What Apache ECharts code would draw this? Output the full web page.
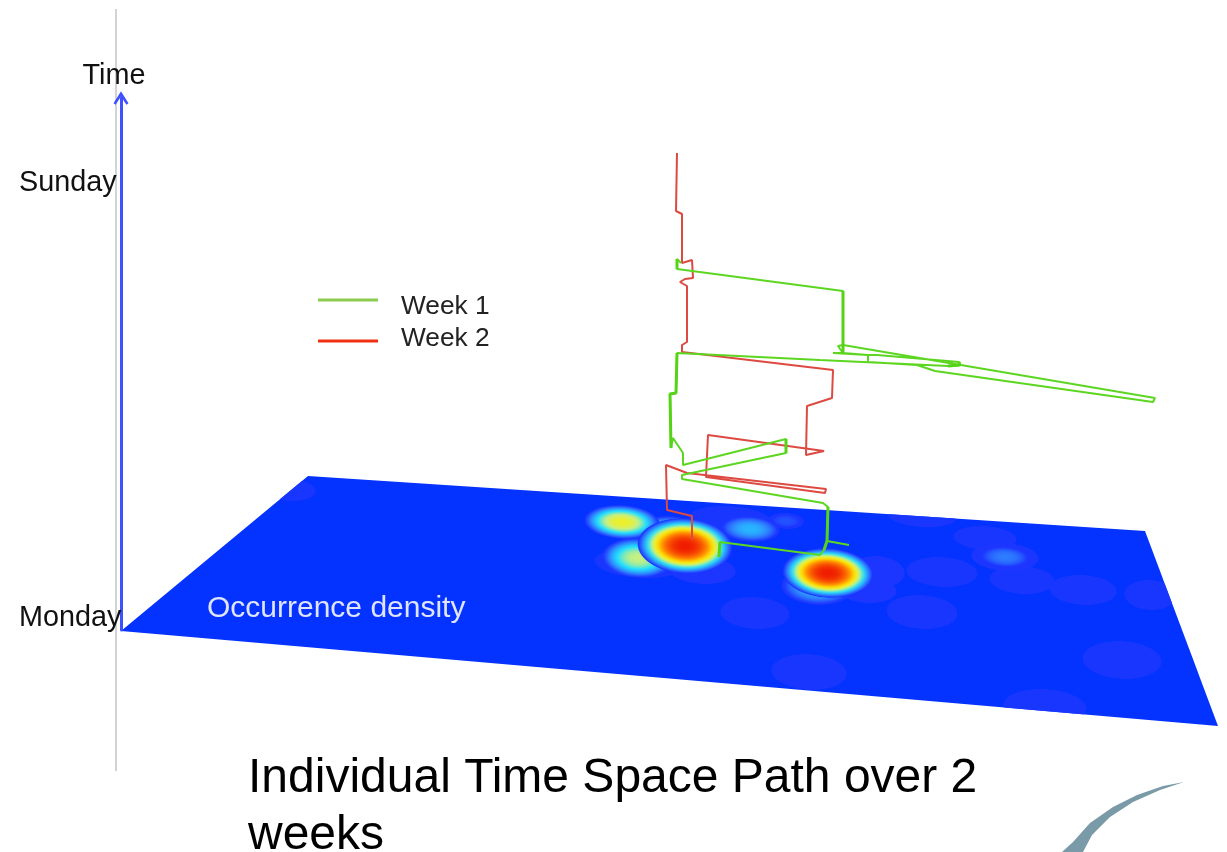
<!DOCTYPE html>
<html>
<head>
<meta charset="utf-8">
<script src="https://cdn.jsdelivr.net/npm/echarts@6/dist/echarts.min.js"></script>
<style>
  html, body { margin: 0; background: #fff; }
  #main { width: 1227px; height: 852px; }
</style>
</head>
<body>
<div id="main"></div>
<script>
const chartTitle = 'Individual Time Space Path over 2\nweeks'
const dayNames = ['Monday', 'Sunday']
const dayValues = [0, 6]

// paths, in picture units
const week1Path = [[719,557],[720,542],[820,555],[824,550],[827,541],[849,545],[827,541],[828,507],[823,503],[682,479],[682,475],[786,453],[786,439],[683,465],[683,453],[673,438],[671,448],[670,394],[676,393],[677,353],[820,360],[948,366],[960,365],[959,362],[877,355],[868,355],[868,362],[917,365],[935,371],[1153,402],[1155,398],[843,345],[838,346],[843,353],[833,353],[868,355],[843,353],[843,291],[677,269],[677,259],[681,263]]
const week1Heavy = [[843,291],[843,353],null,[677,353],[676,393],[670,394],[671,448],null,[828,507],[827,541],[824,550],null,[786,439],[786,453],null,[677,269],[677,259],null,[948,366],[960,365],[959,362],null,[719,557],[720,542]]
const week2Path = [[677,153],[676,211],[682,214],[682,230],[682,263],[692,260],[693,278],[685,279],[680,282],[687,286],[687,342],[682,345],[682,352],[833,370],[832,398],[807,406],[806,455],[824,451],[708,435],[706,477],[825,493],[826,489],[687,473],[666,465],[667,510],[692,516],[692,540]]

const planeCorners = [[121,631],[308,476],[1145,531],[1218,726]]
const logoOutline = [[1184,782],[1163,786],[1137,795],[1113,807],[1090,823],[1073,842],[1062,852],[1083,852],[1092,835],[1110,817],[1133,802],[1160,790]]
const timeRule = [[116,9],[116,771]]

// x, y, spread x, spread y, peak density
const densitySpots = [
  [290,490,26,11,0.06],[730,520,42,14,0.06],[922,517,34,10,0.06],[985,538,32,12,0.06],
  [1022,580,33,14,0.06],[942,572,36,15,0.06],[1083,590,34,15,0.06],[1150,595,26,15,0.06],
  [755,613,35,16,0.06],[922,612,36,17,0.06],[1122,660,40,19,0.06],[809,672,38,18,0.06],
  [1045,707,42,18,0.06],[877,572,28,16,0.07],[867,590,30,13,0.07],[640,563,46,15,0.06],
  [702,570,34,14,0.07],[1005,557,34,14,0.09],[786,521,18,8,0.14],[1005,557,26,11,0.24],
  [750,529,30,13,0.36],[817,587,36,18,0.38],[670,530,30,14,0.46],[638,558,36,20,0.6],
  [622,522,38,17,0.68],[828,573,46,25,1],[685,546,48,28,1]
]

const densityColors = [
  [0, '#0433ff'], [0.07, '#1c36ff'], [0.25, '#2f80ff'], [0.45, '#22e0ff'],
  [0.6, '#c8f080'], [0.72, '#ffee00'], [0.85, '#ff8800'], [1, '#f01c00']
]

function densityColor(v) {
  for (let i = 1; i < densityColors.length; i++) {
    if (v <= densityColors[i][0]) {
      let a = densityColors[i - 1], b = densityColors[i]
      let t = (v - a[0]) / (b[0] - a[0])
      return echarts.color.lerp(t, [a[1], b[1]])
    }
  }
  return '#f01c00'
}

function spotGradient(peak) {
  let stops = []
  for (let i = 0; i <= 14; i++) {
    let t = i / 14 * 0.97
    let level = Math.max(0.07, peak * (1 - Math.pow(t, 2.4)))
    stops.push({ offset: t, color: densityColor(Math.min(level, peak)) })
  }
  stops.push({ offset: 1, color: 'rgba(28,54,255,0)' })
  return new echarts.graphic.RadialGradient(0.5, 0.5, 0.5, stops)
}

function coordsOf(api, list) {
  return list.map(p => api.coord(p))
}

const chart = echarts.init(document.getElementById('main'))

const option = {
  animation: false,
  backgroundColor: '#fff',
  title: [
    {
      text: chartTitle, left: 248, top: 750, padding: 0,
      textStyle: { fontFamily: 'Liberation Sans', fontSize: 48, fontWeight: 'normal', color: '#000', lineHeight: 57 }
    },
    {
      text: 'Occurrence density', left: 207, top: 594, padding: 0,
      textStyle: { fontFamily: 'Liberation Sans', fontSize: 30, fontWeight: 'normal', color: '#dfe4ff' }
    }
  ],
  legend: [
    {
      left: 318, top: 294, padding: 0, itemWidth: 60, itemHeight: 3, selectedMode: false,
      data: [{ name: 'Week 1', icon: 'rect', itemStyle: { color: '#8ccb4e' } }],
      formatter: '{low|{name}}',
      textStyle: {
        fontFamily: 'Liberation Sans', fontSize: 26.3, color: '#222',
        rich: { low: { fontFamily: 'Liberation Sans', fontSize: 26.3, color: '#222', padding: [14, 0, 0, 18] } }
      }
    },
    {
      left: 318, top: 326, padding: 0, itemWidth: 60, itemHeight: 3, selectedMode: false,
      data: [{ name: 'Week 2', icon: 'rect', itemStyle: { color: '#f03010' } }],
      formatter: '{high|{name}}',
      textStyle: {
        fontFamily: 'Liberation Sans', fontSize: 26.3, color: '#222',
        rich: { high: { fontFamily: 'Liberation Sans', fontSize: 26.3, color: '#222', padding: [0, 0, 4, 18] } }
      }
    }
  ],
  grid: [
    { left: 0, top: 0, right: 0, bottom: 0 },
    { left: 121, top: 98, width: 1, height: 532 }
  ],
  xAxis: [
    { type: 'value', min: 0, max: 1227, show: false, gridIndex: 0 },
    { type: 'value', min: 0, max: 1, show: false, gridIndex: 1 }
  ],
  yAxis: [
    { type: 'value', min: 0, max: 852, inverse: true, show: false, gridIndex: 0 },
    {
      type: 'value', gridIndex: 1, min: -0.16, max: 7.18, position: 'left', z: 5,
      name: 'Time', nameLocation: 'end', nameGap: 7,
      nameTextStyle: { fontFamily: 'Liberation Sans', fontSize: 28.8, color: '#111', padding: [0, 14, 0, 0] },
      axisLine: {
        show: true, onZero: false,
        symbol: ['none', 'path://M5,0 L10,8 L8.6,9 L5,3.5 L1.4,9 L0,8 Z'], symbolSize: [15, 14],
        lineStyle: { color: '#3f50ff', width: 3 }
      },
      axisTick: { show: false },
      splitLine: { show: false },
      axisLabel: {
        customValues: dayValues, margin: 102, align: 'left',
        fontFamily: 'Liberation Sans', fontSize: 28.8, color: '#111',
        formatter: v => dayNames[dayValues.indexOf(v)]
      }
    }
  ],
  series: [
    {
      type: 'line', name: 'rule', data: timeRule, showSymbol: false, silent: true, z: 1,
      lineStyle: { color: '#c4c4c4', width: 1.5 }
    },
    {
      type: 'custom', name: 'plane', z: 2, silent: true, data: [0],
      renderItem: (params, api) => ({
        type: 'polygon',
        shape: { points: coordsOf(api, planeCorners) },
        style: { fill: '#0433ff' }
      })
    },
    {
      type: 'custom', name: 'density', z: 3, silent: true, clip: false,
      data: densitySpots,
      encode: { x: 0, y: 1 },
      renderItem: (params, api) => {
        let c = api.coord([api.value(0), api.value(1)])
        let s = api.size([api.value(2), api.value(3)])
        return {
          type: 'group',
          clipPath: { type: 'polygon', shape: { points: coordsOf(api, planeCorners) } },
          children: [{
            type: 'circle',
            x: c[0], y: c[1], scaleY: s[1] / s[0], rotation: -0.06,
            shape: { cx: 0, cy: 0, r: s[0] },
            style: { fill: spotGradient(api.value(4)) }
          }]
        }
      }
    },
    {
      type: 'custom', name: 'logo', z: 2, silent: true, data: [0],
      renderItem: (params, api) => ({
        type: 'polygon',
        shape: { points: coordsOf(api, logoOutline) },
        style: { fill: '#7a9aa8' }
      })
    },
    {
      type: 'line', name: 'Week 2', data: week2Path, showSymbol: false, z: 6,
      lineStyle: { color: '#dc4a42', width: 2 }
    },
    {
      type: 'line', name: 'Week 1', data: week1Path, showSymbol: false, z: 7,
      lineStyle: { color: '#5cd621', width: 2 }
    },
    {
      type: 'line', name: 'Week 1', data: week1Heavy, showSymbol: false, z: 7, connectNulls: false,
      lineStyle: { color: '#55d416', width: 3 }
    }
  ]
}

chart.setOption(option)
</script>
</body>
</html>
